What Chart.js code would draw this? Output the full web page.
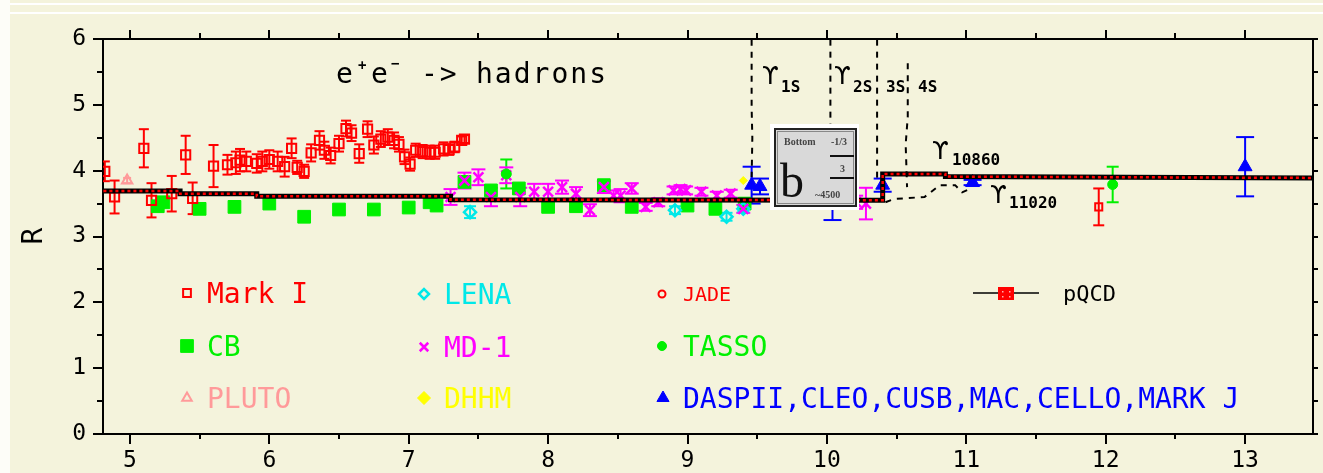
<!DOCTYPE html>
<html><head><meta charset="utf-8">
<script src="https://cdn.jsdelivr.net/npm/chart.js@4.4.0/dist/chart.umd.min.js"></script>
<style>html,body{margin:0;padding:0;background:#F4F3DC;}#wrap{width:1323px;height:473px;position:relative;}</style>
</head><body><div id="wrap"><canvas id="c"></canvas></div>
<script>
// ---------- data ----------
const xTicks = [5, 6, 7, 8, 9, 10, 11, 12, 13];
const yTicks = [0, 1, 2, 3, 4, 5, 6];

const markIE = [4.82,4.89,5.10,5.155,5.30,5.40,5.45,5.60,5.70,5.76,5.79,5.835,5.91,5.95,6.00,6.06,6.11,6.16,6.20,6.25,6.30,6.36,6.395,6.44,6.50,6.55,6.59,6.645,6.705,6.75,6.80,6.85,6.895,6.93,6.97,7.01,7.05,7.10,7.15,7.19,7.25,7.29,7.33,7.38,7.40];
const markIR = [3.99,3.60,4.34,3.55,3.65,4.24,3.58,4.07,4.09,4.12,4.16,4.14,4.11,4.14,4.17,4.14,4.06,4.34,4.05,3.99,4.27,4.46,4.31,4.23,4.41,4.64,4.57,4.26,4.63,4.39,4.48,4.51,4.46,4.40,4.21,4.10,4.31,4.29,4.28,4.28,4.33,4.32,4.36,4.46,4.48];
const markIErr = [0.15,0.25,0.29,0.26,0.27,0.29,0.24,0.32,0.15,0.17,0.17,0.15,0.14,0.15,0.14,0.15,0.15,0.15,0.10,0.10,0.13,0.14,0.13,0.12,0.12,0.12,0.12,0.14,0.12,0.13,0.12,0.12,0.12,0.11,0.11,0.10,0.10,0.10,0.10,0.10,0.10,0.08,0.08,0.06,0.06];

const cbE = [5.20,5.24,5.50,5.75,6.00,6.25,6.50,6.75,7.00,7.15,7.20,7.40,7.59,7.79,8.00,8.20,8.40,8.60,9.00,9.20,9.41];
const cbR = [3.46,3.52,3.42,3.45,3.50,3.30,3.41,3.41,3.44,3.52,3.47,3.83,3.70,3.73,3.45,3.46,3.78,3.45,3.47,3.42,3.50];

const plutoE = [4.98];
const plutoR = [3.85];
const plutoErr = [0.04];

const lenaE = [7.44, 8.91, 9.28, 9.40];
const lenaR = [3.37, 3.40, 3.30, 3.42];
const lenaErr = [0.09, 0.06, 0.06, 0.05];

const md1E = [7.30,7.40,7.50,7.59,7.70,7.80,7.90,8.00,8.10,8.20,8.30,8.40,8.47,8.52,8.60,8.70,8.79,8.90,8.95,8.99,9.10,9.21,9.31,9.40,10.21,10.28];
const md1R = [3.60,3.85,3.90,3.60,3.93,3.60,3.68,3.68,3.75,3.65,3.40,3.75,3.62,3.62,3.73,3.45,3.52,3.70,3.72,3.70,3.68,3.62,3.65,3.42,3.52,3.50];
const md1Err = [0.12,0.12,0.12,0.14,0.12,0.14,0.12,0.12,0.10,0.10,0.09,0.09,0.08,0.10,0.08,0.06,0.06,0.06,0.06,0.06,0.06,0.06,0.06,0.06,0.10,0.24];

const dhhmE = [9.40];
const dhhmR = [3.85];

const jadeE = [11.95];
const jadeR = [3.45];
const jadeErr = [0.28];

const tassoE = [7.17, 7.70, 12.05];
const tassoR = [3.55, 3.95, 3.79];
const tassoErr = [0.05, 0.22, 0.27];

const daspE = [9.46, 9.52, 10.04, 10.40, 11.045, 13.00];
const daspR = [3.78, 3.76, 3.55, 3.78, 3.82, 4.06];
const daspErr = [0.28, 0.12, 0.30, 0.10, 0.04, 0.45];

const qcdE = [4.81, 5.36, 5.36, 5.91, 5.91, 7.30, 7.30, 10.40, 10.40, 10.85, 10.85, 13.49];
const qcdR = [3.69, 3.69, 3.65, 3.65, 3.61, 3.61, 3.56, 3.55, 3.95, 3.95, 3.91, 3.89];

const ups1E = [9.46, 9.46, 9.465, 9.46];
const ups1R = [5.99, 4.95, 4.50, 3.90];
const ups2E = [10.025, 10.025];
const ups2R = [5.99, 3.50];
const ups3E = [10.36, 10.36];
const ups3R = [5.99, 3.82];
const ups4E = [10.58, 10.58, 10.565, 10.575];
const ups4R = [5.63, 4.82, 4.40, 3.75];
const upsTailE = [10.42, 10.48, 10.70, 10.81, 10.92, 10.97, 11.02];
const upsTailR = [3.52, 3.57, 3.60, 3.78, 3.78, 3.67, 3.72];

const legendLabels = ['Mark I','CB','PLUTO','LENA','MD-1','DHHM','JADE','TASSO','DASPII,CLEO,CUSB,MAC,CELLO,MARK J','pQCD'];

// ---------- helpers ----------
const MONO = "'DejaVu Sans Mono', monospace";
const pts = (E, R) => E.map((e, i) => ({x: e, y: R[i]}));
const RED = '#FF0000', GREEN = '#00F000', CYAN = '#00E8E8', MAG = '#FF00FF', YEL = '#FFFF00', BLUE = '#0000FF', PINK = '#FF9A9A';

function marker(name, color, style, radius, fill, bw, errs, cap) {
  return {
    label: name, type: 'scatter', showLine: false,
    pointStyle: style, pointRadius: radius, pointHoverRadius: radius,
    borderColor: color, pointBorderColor: color,
    backgroundColor: fill ? color : 'rgba(0,0,0,0)', pointBackgroundColor: fill ? color : 'rgba(0,0,0,0)',
    pointBorderWidth: bw, errs: errs, capW: cap
  };
}
function dashLine(name, E, R) {
  return {label: name, type: 'scatter', showLine: true, data: pts(E, R), borderColor: '#000', borderWidth: 2,
    borderDash: [6, 6], pointRadius: 0, fill: false, tension: 0};
}

const datasets = [
  {label: 'pQCD-red', type: 'scatter', showLine: true, data: pts(qcdE, qcdR), borderColor: RED, borderWidth: 2.5, borderDash: [3, 3], pointRadius: 0},
  {label: 'pQCD', type: 'scatter', showLine: true, data: pts(qcdE, qcdR), borderColor: '#000', borderWidth: 5, pointRadius: 0},
  Object.assign(marker('DHHM', YEL, 'rectRot', 4, true, 1), {data: pts(dhhmE, dhhmR)}),
  Object.assign(marker('DASP', BLUE, 'triangle', 8, true, 1, daspErr, 9), {data: pts(daspE, daspR)}),
  Object.assign(marker('TASSO', GREEN, 'circle', 5, true, 1, tassoErr, 6), {data: pts(tassoE, tassoR)}),
  Object.assign(marker('JADE', RED, 'rect', 5, false, 2, jadeErr, 5.5), {data: pts(jadeE, jadeR)}),
  Object.assign(marker('MD-1', MAG, 'crossRot', 7, false, 2.5, md1Err, 7), {data: pts(md1E, md1R)}),
  Object.assign(marker('LENA', CYAN, 'rectRot', 6, false, 2.5, lenaErr, 6), {data: pts(lenaE, lenaR)}),
  Object.assign(marker('PLUTO', PINK, 'triangle', 6, false, 2, plutoErr, 4), {data: pts(plutoE, plutoR)}),
  Object.assign(marker('Mark I', RED, 'rect', 6.5, false, 2, markIErr, 5), {data: pts(markIE, markIR)}),
  Object.assign(marker('CB', GREEN, 'rect', 9, true, 1), {data: pts(cbE, cbR)}),
  dashLine('ups1', ups1E, ups1R),
  dashLine('ups2', ups2E, ups2R),
  dashLine('ups3', ups3E, ups3R),
  dashLine('ups4', ups4E, ups4R),
  dashLine('upsTail', upsTailE, upsTailR)
];

function line(ctx, x1, y1, x2, y2) { ctx.beginPath(); ctx.moveTo(x1, y1); ctx.lineTo(x2, y2); ctx.stroke(); }

function drawMarker(ctx, style, r, color, fill, bw, x, y) {
  ctx.save();
  ctx.strokeStyle = color; ctx.fillStyle = fill ? color : 'rgba(0,0,0,0)'; ctx.lineWidth = bw;
  Chart.helpers.drawPoint(ctx, {pointStyle: style, radius: r, rotation: 0, borderWidth: bw}, x, y);
  ctx.restore();
}

const bgPlugin = {
  id: 'bg',
  beforeDraw(chart) {
    const ctx = chart.ctx;
    ctx.save();
    ctx.fillStyle = '#F4F3DC'; ctx.fillRect(0, 0, chart.width, chart.height);
    ctx.fillStyle = '#FDFDF8'; ctx.fillRect(0, 0, 10, chart.height);
    ctx.strokeStyle = '#FFFFFF'; ctx.lineWidth = 2;
    line(ctx, 10, 4, chart.width, 4);
    line(ctx, 10, 13, chart.width, 13);
    ctx.restore();
  }
};

const errPlugin = {
  id: 'errbars',
  beforeDatasetsDraw(chart) {
    const ctx = chart.ctx, xs = chart.scales.x, ys = chart.scales.y, a = chart.chartArea;
    ctx.save();
    ctx.beginPath(); ctx.rect(a.left, a.top, a.right - a.left, a.bottom - a.top); ctx.clip();
    chart.data.datasets.forEach(ds => {
      if (!ds.errs) return;
      ctx.strokeStyle = ds.borderColor; ctx.lineWidth = 2;
      ds.data.forEach((p, i) => {
        const e = ds.errs[i];
        const px = xs.getPixelForValue(p.x);
        const y1 = ys.getPixelForValue(p.y - e), y2 = ys.getPixelForValue(p.y + e);
        line(ctx, px, y1, px, y2);
        line(ctx, px - ds.capW, y1, px + ds.capW, y1);
        line(ctx, px - ds.capW, y2, px + ds.capW, y2);
      });
    });
    ctx.restore();
  }
};

const overlayPlugin = {
  id: 'overlay',
  afterDatasetsDraw(chart) {
    const ctx = chart.ctx;
    ctx.save();
    // inset picture: bottom quark
    ctx.fillStyle = '#FFFFFF'; ctx.fillRect(770, 124, 89, 86);
    ctx.fillStyle = '#D9D9D9'; ctx.fillRect(774, 128, 83, 79);
    ctx.strokeStyle = '#222'; ctx.lineWidth = 2; ctx.strokeRect(775, 129, 81, 77);
    ctx.strokeStyle = '#888'; ctx.lineWidth = 1; ctx.strokeRect(777.5, 131.5, 76, 72);
    ctx.fillStyle = '#444';
    ctx.font = "bold 10px 'Liberation Serif', serif"; ctx.textBaseline = 'alphabetic';
    ctx.textAlign = 'left'; ctx.fillText('Bottom', 784, 145);
    ctx.fillText('-1/3', 831, 145);
    ctx.fillText('~4500', 815, 198);
    ctx.fillText('3', 840, 172);
    ctx.strokeStyle = '#111'; ctx.lineWidth = 2;
    line(ctx, 830, 156, 854, 156);
    line(ctx, 830, 178, 854, 178);
    ctx.fillStyle = '#111';
    ctx.font = "48px 'Liberation Serif', serif"; ctx.fillText('b', 780, 197);

    // upsilon labels
    ctx.fillStyle = '#000';
    ctx.font = "24px 'DejaVu Sans', sans-serif";
    ctx.fillText('\u03D2', 762, 84);
    ctx.fillText('\u03D2', 834, 84);
    ctx.fillText('\u03D2', 932, 159);
    ctx.fillText('\u03D2', 990, 203);
    ctx.font = "bold 16px " + MONO;
    ctx.fillText('1S', 781, 92);
    ctx.fillText('2S', 853, 92);
    ctx.fillText('3S', 886, 92);
    ctx.fillText('4S', 918, 92);
    ctx.fillText('10860', 952, 165);
    ctx.fillText('11020', 1009, 208);

    // process label
    ctx.font = "28px " + MONO;
    try { ctx.letterSpacing = '2px'; } catch (e) {}
    ctx.fillText('e', 336, 83);
    ctx.fillText('e', 371, 83);
    ctx.fillText('->', 421, 83);
    ctx.fillText('hadrons', 476, 83);
    try { ctx.letterSpacing = '0px'; } catch (e) {}
    ctx.font = "bold 14px " + MONO;
    ctx.fillText('+', 358, 70);
    ctx.fillText('\u2212', 391, 68);
    ctx.restore();
  },
  afterDraw(chart) {
    const ctx = chart.ctx, xs = chart.scales.x, ys = chart.scales.y, a = chart.chartArea;
    ctx.save();
    ctx.strokeStyle = '#000'; ctx.lineWidth = 2;
    line(ctx, a.left - 1, a.top, a.right + 1, a.top);
    line(ctx, a.right, a.top, a.right, a.bottom);
    for (let v = 4.5; v <= 14; v += 0.5) {
      if (v < xs.min || v > xs.max) continue;
      const px = Math.round(xs.getPixelForValue(v));
      const major = Number.isInteger(v);
      if (!major) line(ctx, px, a.bottom, px, a.bottom + 5);
      line(ctx, px, a.top, px, a.top - (major ? 9 : 6));
    }
    for (let v = 0; v <= 6; v += 0.5) {
      const py = Math.round(ys.getPixelForValue(v));
      if (!Number.isInteger(v)) line(ctx, a.left - 6, py, a.left, py);
      line(ctx, a.right, py, a.right + 5, py);
    }
    // axis title
    ctx.fillStyle = '#000';
    ctx.save(); ctx.translate(35, 236); ctx.rotate(-Math.PI / 2);
    ctx.font = "28px " + MONO; ctx.textAlign = 'center'; ctx.textBaseline = 'middle';
    ctx.fillText('R', 0, 0); ctx.restore();

    // legend
    const items = [
      [legendLabels[0], RED, 'rect', 5.5, false, 2, 187, 293, 207, 28],
      [legendLabels[1], GREEN, 'rect', 9, true, 1, 187, 346, 207, 28],
      [legendLabels[2], PINK, 'triangle', 5.5, false, 2, 187, 398, 207, 28],
      [legendLabels[3], CYAN, 'rectRot', 5, false, 2.5, 424, 294, 444, 28],
      [legendLabels[4], MAG, 'crossRot', 6, false, 2.5, 424, 347, 444, 28],
      [legendLabels[5], YEL, 'rectRot', 6.5, true, 1, 424, 398, 444, 28],
      [legendLabels[6], RED, 'circle', 3.5, false, 2, 662, 294, 683, 20],
      [legendLabels[7], GREEN, 'circle', 4.5, true, 1, 662, 346, 683, 28],
      [legendLabels[8], BLUE, 'triangle', 7, true, 1, 663, 398, 683, 28]
    ];
    ctx.textAlign = 'left'; ctx.textBaseline = 'alphabetic';
    items.forEach(it => {
      drawMarker(ctx, it[2], it[3], it[1], it[4], it[5], it[6], it[7]);
      ctx.fillStyle = it[1];
      ctx.font = it[9] + 'px ' + MONO;
      ctx.fillText(it[0], it[8], it[7] + it[9] * 0.36);
    });
    // pQCD legend
    ctx.strokeStyle = '#000'; ctx.lineWidth = 1.5;
    line(ctx, 973, 293, 1039, 293);
    ctx.fillStyle = RED; ctx.fillRect(998, 287, 16, 13);
    ctx.fillStyle = '#FFB0B0';
    [[1002,291],[1009,291],[1002,296],[1009,296]].forEach(p => ctx.fillRect(p[0], p[1], 1.5, 1.5));
    ctx.fillStyle = '#000'; ctx.font = '22px ' + MONO;
    ctx.fillText(legendLabels[9], 1063, 301);
    ctx.restore();
  }
};

new Chart(document.getElementById('c'), {
  type: 'scatter',
  data: {datasets: datasets},
  options: {
    responsive: true, maintainAspectRatio: false, animation: false, events: [],
    layout: {padding: {top: 39, right: 7, left: 0, bottom: 0}},
    plugins: {legend: {display: false}, tooltip: {enabled: false}},
    scales: {
      x: {
        type: 'linear', min: 4.807, max: 13.487,
        afterBuildTicks: s => { s.ticks = xTicks.map(v => ({value: v})); },
        afterFit: s => { s.height = 39; },
        ticks: {color: '#000', font: {family: MONO, size: 23}, padding: 3, callback: v => String(v), maxRotation: 0, autoSkip: false},
        grid: {display: true, drawOnChartArea: false, drawTicks: true, tickLength: 10, color: '#000', lineWidth: 2},
        border: {display: true, color: '#000', width: 2}
      },
      y: {
        type: 'linear', min: 0, max: 6,
        afterBuildTicks: s => { s.ticks = yTicks.map(v => ({value: v})); },
        afterFit: s => { s.width = 103; },
        ticks: {color: '#000', font: {family: MONO, size: 23}, padding: 7, callback: v => String(v), autoSkip: false},
        grid: {display: true, drawOnChartArea: false, drawTicks: true, tickLength: 10, color: '#000', lineWidth: 2},
        border: {display: true, color: '#000', width: 2}
      }
    }
  },
  plugins: [bgPlugin, errPlugin, overlayPlugin]
});
</script>
</body></html>
